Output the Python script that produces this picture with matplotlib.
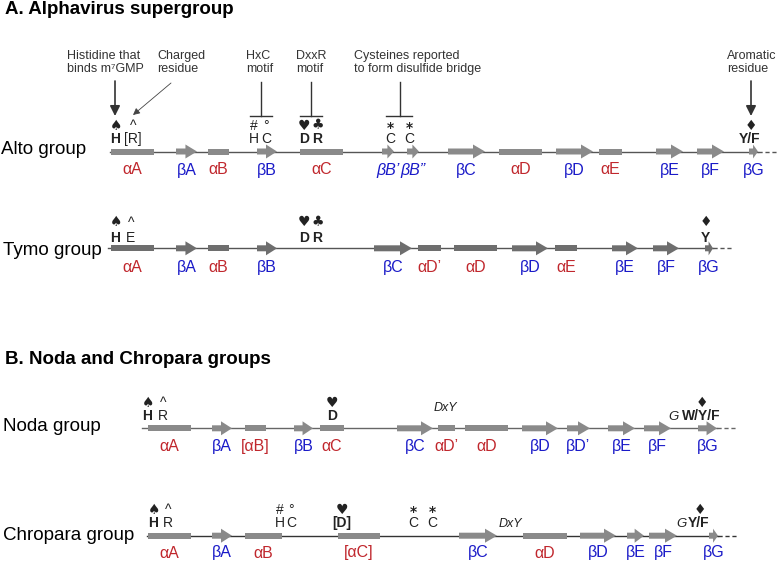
import matplotlib
matplotlib.use("Agg")
import matplotlib.pyplot as plt
from matplotlib.patches import Polygon, Rectangle

plt.rcParams['font.family'] = ['Liberation Sans', 'DejaVu Sans']

RED = '#c0272d'
BLUE = '#1a1ac8'

# secondary structure elements: label, start, end (sequence axis, px)
alto_names = ['αA', 'βA', 'αB', 'βB', 'αC', 'βB’', 'βB”', 'βC', 'αD', 'βD', 'αE', 'βE', 'βF', 'βG']
alto_start = [111, 176, 208, 257, 300, 382, 407, 448, 499, 556, 599, 656, 697, 749]
alto_end   = [154, 197, 229, 277, 343, 394, 419, 485, 542, 593, 622, 683, 724, 758]

tymo_names = ['αA', 'βA', 'αB', 'βB', 'βC', 'αD’', 'αD', 'βD', 'αE', 'βE', 'βF', 'βG']
tymo_start = [111, 176, 208, 257, 374, 418, 454, 512, 555, 612, 653, 705]
tymo_end   = [154, 197, 229, 277, 412, 441, 497, 548, 577, 638, 679, 713]

noda_names = ['αA', 'βA', '[αB]', 'βB', 'αC', 'βC', 'αD’', 'αD', 'βD', 'βD’', 'βE', 'βF', 'βG']
noda_start = [148, 212, 245, 294, 320, 397, 438, 465, 522, 567, 608, 644, 698]
noda_end   = [191, 232, 266, 313, 344, 433, 455, 508, 558, 590, 635, 671, 717]

chro_names = ['αA', 'βA', 'αB', '[αC]', 'βC', 'αD', 'βD', 'βE', 'βF', 'βG']
chro_start = [148, 212, 245, 338, 459, 523, 580, 627, 649, 709]
chro_end   = [191, 232, 282, 380, 497, 567, 616, 644, 677, 718]

# conserved residues: position, symbol, residue, weight
alto_res = [(115, '♠', 'H', 'bold'), (133, '^', '[R]', 'normal'),
            (254, '#', 'H', 'normal'), (266, '°', 'C', 'normal'),
            (304, '♥', 'D', 'bold'), (317, '♣', 'R', 'bold'),
            (390, '*', 'C', 'normal'), (409, '*', 'C', 'normal'),
            (750, '♦', 'Y/F', 'bold')]
tymo_res = [(115, '♠', 'H', 'bold'), (131, '^', 'E', 'normal'),
            (304, '♥', 'D', 'bold'), (317, '♣', 'R', 'bold'),
            (705, '♦', 'Y', 'bold')]
noda_res = [(147, '♠', 'H', 'bold'), (163, '^', 'R', 'normal'),
            (332, '♥', 'D', 'bold'), (701, '♦', 'W/Y/F', 'bold')]
chro_res = [(153, '♠', 'H', 'bold'), (168, '^', 'R', 'normal'),
            (280, '#', 'H', 'normal'), (291, '°', 'C', 'normal'),
            (342, '♥', '[D]', 'bold'),
            (413, '*', 'C', 'normal'), (432, '*', 'C', 'normal'),
            (699, '♦', 'Y/F', 'bold')]

fig = plt.figure(figsize=(7.78, 5.62), dpi=100)
ax = fig.add_axes([0, 0, 1, 1])
ax.set_xlim(0, 778)
ax.set_ylim(562, 0)
ax.axis('off')


def draw_row(names, starts, ends, y, ylab, x0, x1, xdash, shade, lcol):
    ax.plot([x0, x1], [y, y], color=lcol, lw=1, zorder=1)
    ax.plot([x1, xdash], [y, y], color=lcol, lw=1, ls=(0, (3, 2)), zorder=1)
    for nm, s, e in zip(names, starts, ends):
        if 'α' in nm:
            ax.add_patch(Rectangle((s, y - 3), e - s, 6, color=shade, lw=0, zorder=2))
            col = RED
        else:
            L = e - s
            hl = min(12, 0.55 * L)
            pts = [(s, y - 3), (e - hl, y - 3), (e - hl, y - 7), (e, y),
                   (e - hl, y + 7), (e - hl, y + 3), (s, y + 3)]
            ax.add_patch(Polygon(pts, closed=True, color=shade, lw=0, zorder=2))
            col = BLUE
        st = 'italic' if nm.startswith('βB') and len(nm) > 2 else 'normal'
        ax.text((s + e) / 2, ylab, nm, color=col, fontsize=11.5, ha='center',
                va='center', style=st)


def draw_res(res, ylb, ls):
    # symbol stacked over residue letter; ylb = baseline of residue letters
    for x, sym, let, w in res:
        if sym in '♠♥♣♦':
            top = '$' + sym + '$'
        elif sym == '*':
            top = r'$\mathbf{*}$'
        else:
            top = sym
        ax.text(x, ylb + 2.9, top + '\n' + let, fontsize=10, ha='center',
                va='bottom', weight=w, linespacing=ls, color='#222')


# section A
ax.text(5, 14, 'A. Alphavirus supergroup', fontsize=13.5, weight='bold', va='baseline')
ax.text(1, 154, 'Alto group', fontsize=13.5, va='baseline')
ax.text(3, 255, 'Tymo group', fontsize=13.5, va='baseline')

draw_row(alto_names, alto_start, alto_end, 151.5, 170, 110, 758, 777, '#8a8a8a', '#555555')
draw_res(alto_res, 142.7, 0.9)
draw_row(tymo_names, tymo_start, tymo_end, 248.3, 267.3, 108, 713, 733, '#6e6e6e', '#555555')
draw_res(tymo_res, 241.7, 1.1)

# callouts
notes = [(67, 'Histidine that\nbinds m⁷GMP'), (157, 'Charged\nresidue'),
         (246, 'HxC\nmotif'), (296, 'DxxR\nmotif'),
         (354, 'Cysteines reported\nto form disulfide bridge'), (727, 'Aromatic\nresidue')]
for x, t in notes:
    ax.text(x, 50, t, fontsize=9, va='top', ha='left', linespacing=1.1, color='#333')

for x in (115, 751):
    ax.annotate('', xy=(x, 116), xytext=(x, 81),
                arrowprops=dict(arrowstyle='-|>', color='#333', lw=1.2,
                                mutation_scale=15, shrinkA=0, shrinkB=0))
ax.annotate('', xy=(133, 115), xytext=(171, 83),
            arrowprops=dict(arrowstyle='-|>', color='#444', lw=0.6,
                            mutation_scale=10, shrinkA=0, shrinkB=0))
for xc, xa, xb in [(261, 250, 272), (311, 300, 322), (400, 386, 412)]:
    ax.plot([xc, xc], [82, 116], color='#333', lw=1)
    ax.plot([xa, xb], [116, 116], color='#333', lw=1)

# section B
ax.text(5, 364, 'B. Noda and Chropara groups', fontsize=13.5, weight='bold', va='baseline')
ax.text(3, 431, 'Noda group', fontsize=13.5, va='baseline')
ax.text(3, 540, 'Chropara group', fontsize=13.5, va='baseline')

draw_row(noda_names, noda_start, noda_end, 428.3, 446.7, 142, 717, 737, '#8a8a8a', '#666666')
draw_res(noda_res, 420, 0.9)
ax.text(445, 411, 'DxY', fontsize=9, style='italic', ha='center', va='baseline', color='#222')
ax.text(673, 420, 'G', fontsize=9.5, style='italic', ha='center', va='baseline', color='#222')

draw_row(chro_names, chro_start, chro_end, 535.7, 553, 147, 718, 737, '#8a8a8a', '#333333')
draw_res(chro_res, 526.7, 0.9)
ax.text(510, 526.7, 'DxY', fontsize=9, style='italic', ha='center', va='baseline', color='#222')
ax.text(681, 526.7, 'G', fontsize=9.5, style='italic', ha='center', va='baseline', color='#222')

fig.savefig('out.png', dpi=100)
